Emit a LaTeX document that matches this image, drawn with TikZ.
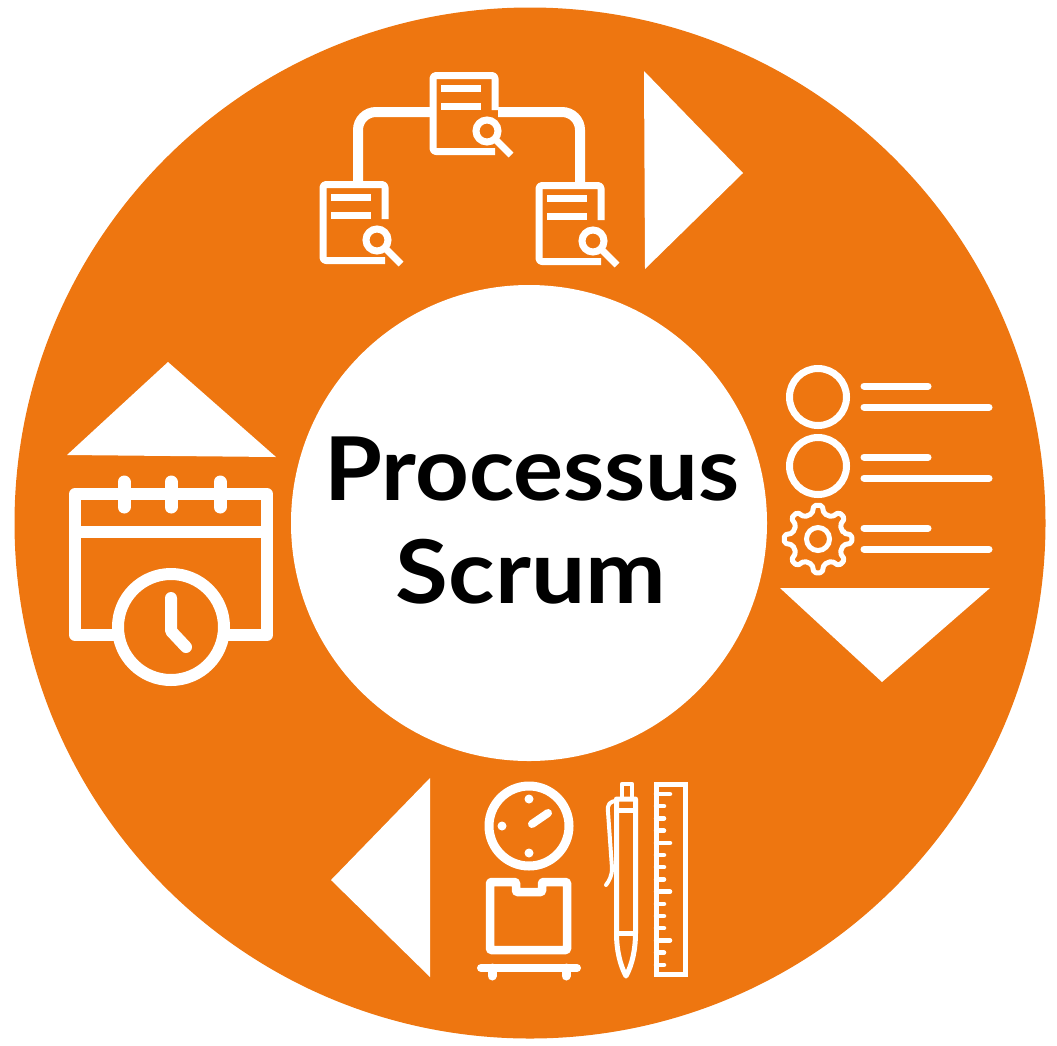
\documentclass[tikz,border=0pt]{standalone}
\usepackage{fontspec}
\setmainfont{Lato}
\definecolor{scrumorange}{HTML}{EE7610}
\tikzset{
	icon/.style={draw=white, line cap=round, line join=round},
	flat/.style={fill=white, draw=none},
	title/.style={font=\fontsize{88}{88}\selectfont\bfseries, text=black, inner sep=0pt, anchor=base}
}
\def\docicon(#1,#2){\begin{scope}[shift={(#1,#2)}]
	\draw[icon, line width=7pt, line cap=butt, rounded corners=3pt] (66,38) -- (66,3.5) -- (4,3.5) -- (4,79.5) -- (66,79.5);
	\draw[white, line width=7pt] (12,16) -- (52,16);
	\draw[white, line width=7pt] (12,34) -- (52,34);
	\draw[white, line width=7pt, fill=scrumorange] (58,59) circle (11);
	\draw[white, line width=7pt] (67,68) -- (82,83);
\end{scope}}
\def\listlines(#1){
	\draw[icon, line width=7pt] (864,#1) -- (928,#1);
	\draw[icon, line width=7pt] (864,#1+21) -- (989,#1+21);
}

\begin{document}
\begin{tikzpicture}[x=1pt, y=-1pt]
		%%%%% START %%%%%
		\useasboundingbox (0,0) rectangle (1057,1045);
		
		\fill[scrumorange] (530,523) circle (515.5);
		\fill[white] (529,523) circle (238);
		
		\node[title] (procword) at (532,500) {\scalebox{1.065}[1]{Processus}};
		\node[title] (scrumword) at (531,603) {\scalebox{1.095}[1]{Scrum}};
		
		\fill[flat] (644,71) -- (743,173) -- (645,269) -- cycle;
		\fill[flat] (780,588) -- (990,588) -- (882,682) -- cycle;
		\fill[flat] (430,778) -- (331,880) -- (430,977) -- cycle;
		\fill[flat] (67,455) -- (168,362) -- (276,457) -- cycle;
		
		% documents
		\draw[white, line width=10pt, rounded corners=18pt] (358,182) -- (358,112) -- (430,112);
		\draw[white, line width=10pt, rounded corners=18pt] (498,112) -- (580,112) -- (580,182);
		\docicon(429,72)
		\docicon(319,181)
		\docicon(535,182)
		
		% list
		\draw[white, line width=7pt] (818,397) circle (28.5);
		\draw[white, line width=7pt] (818,466) circle (28.5);
		\listlines(386)
		\listlines(457)
		\listlines(528)
		\begin{scope}[shift={(818,539)}]
			\draw[icon, line width=5pt, rounded corners=2pt] (-13:26)
			\foreach \a in {0,45,...,315} {
				-- (\a-13:26) -- (\a-7:34) -- (\a+7:34) -- (\a+13:26)
			} -- cycle;
			\draw[white, line width=5pt] (0,0) circle (11.5);
		\end{scope}
		
		% scale
		\draw[white, line width=9pt] (529,826) circle (40);
		\fill[white] (529,799) circle (4.5);
		\fill[white] (502,826) circle (4.5);
		\fill[white] (529,853) circle (4.5);
		\draw[icon, line width=8pt] (532,824) -- (548,813);
		\draw[icon, line width=8.5pt, line cap=butt, rounded corners=1pt] (516,882) -- (490,882) -- (490,950) -- (567,950) -- (567,882) -- (542,882) -- (542,892) -- (516,892) -- cycle;
		\draw[icon, line width=8pt] (481,968) -- (577,968);
		\draw[icon, line width=9pt] (492,968) -- (492,976);
		\draw[icon, line width=9pt] (566,968) -- (566,976);
		
		% pen
		\draw[icon, line width=4.5pt] (622,797) -- (622,784) -- (632,784) -- (632,797);
		\draw[icon, line width=5pt] (616.5,799) -- (635.5,799) -- (635.5,933) .. controls (635.5,950) and (632,965) .. (626,976) .. controls (620,965) and (616.5,950) .. (616.5,933) -- cycle;
		\draw[white, line width=5pt] (616.5,810) -- (635.5,810);
		\draw[white, line width=5pt] (616.5,933) -- (635.5,933);
		\draw[icon, line width=4pt] (617,801) .. controls (610,801) and (607,804) .. (608,812) -- (612,868) .. controls (612,876) and (609,881) .. (606,885);
		
		% ruler
		\draw[white, line width=5.5pt] (656.5,784.5) rectangle (685.5,974.5);
		\foreach \i in {0,...,14} {
			\pgfmathsetmacro{\tick}{mod(\i,4)==0 ? 670 : 664}
			\draw[icon, line width=4.5pt] (656,794+12.2*\i) -- (\tick,794+12.2*\i);
		}
		
		% calendar
		\draw[white, line width=12pt, line join=round] (75,494) rectangle (267,635);
		\draw[white, line width=12pt] (75,532) -- (267,532);
		\foreach \x in {124,171,220} {
			\draw[icon, line width=13pt] (\x,482) -- (\x,507);
		}
		\draw[white, line width=12pt, fill=scrumorange] (171,627) circle (53);
		\draw[icon, line width=12pt] (171,598) -- (171,631) -- (186,647);
		
		%%%%% END %%%%%
	\end{tikzpicture}
\end{document}
